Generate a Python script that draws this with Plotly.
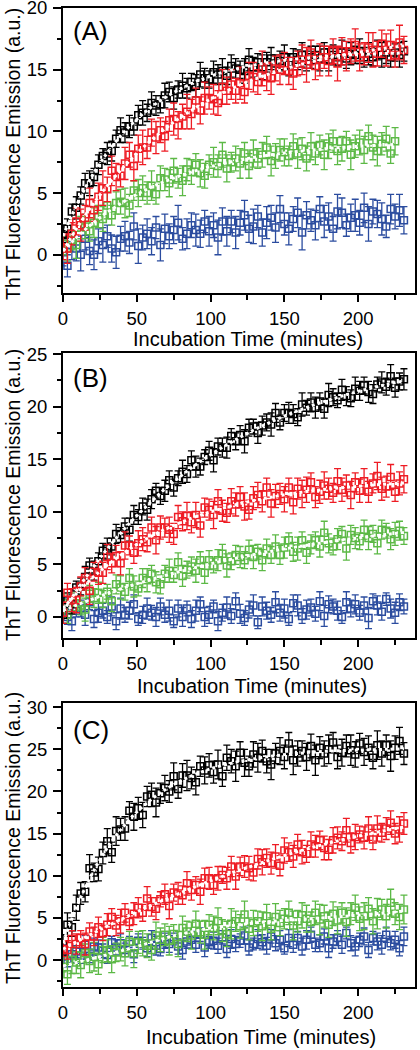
import plotly.graph_objects as go

# ---------------- data ----------------
T = [0,3,6,9,12,15,18,21,24,27,30,33,36,39,42,45,48,51,54,57,60,63,66,69,72,75,78,81,84,87,
     90,93,96,99,102,105,108,111,114,117,120,123,126,129,132,135,138,141,144,147,150,153,156,159,
     162,165,168,171,174,177,180,183,186,189,192,195,198,201,204,207,210,213,216,219,222,225,228,231]
T_A_GREEN = T[:76]

A_black = [1.7,2.1,3.5,3.8,4.8,5.8,5.8,6.3,7.3,8.0,
           8.2,8.4,9.4,10.1,9.9,10.4,10.4,11.3,11.5,11.5,
           12.3,12.1,12.2,12.9,13.2,12.7,13.4,13.7,13.5,14.0,
           13.7,14.6,14.3,14.2,14.8,14.6,14.9,14.5,15.3,15.1,
           15.0,14.9,15.8,15.2,15.6,15.2,15.6,15.9,15.5,15.7,
           16.0,15.4,16.0,15.8,16.2,15.7,16.0,16.2,15.9,16.4,
           15.8,16.2,16.0,16.4,15.9,16.3,16.2,16.5,16.0,16.3,
           16.0,16.6,16.2,16.4,16.0,16.4,16.2,16.5]
A_red = [0.6,0.5,1.7,2.7,2.4,3.0,4.2,3.6,4.7,5.4,
         5.3,6.8,6.3,6.4,7.4,8.1,7.2,8.6,8.7,8.7,
         9.9,9.5,10.1,9.6,10.9,11.0,10.5,11.2,11.6,11.4,
         12.5,11.7,12.7,12.7,12.6,12.3,13.6,13.3,13.8,13.3,
         13.9,13.2,14.5,14.4,14.0,15.1,14.4,14.3,15.1,15.0,
         15.5,14.9,14.7,15.5,15.8,15.4,16.4,15.3,15.8,16.0,
         15.7,16.5,15.5,16.5,16.1,16.5,17.0,16.0,16.3,16.8,
         16.6,16.3,17.1,16.6,17.0,16.2,17.2,16.6]
A_green = [0.9,0.5,1.2,0.8,2.2,2.3,1.9,2.6,3.1,2.9,
           4.0,3.2,4.2,4.3,4.2,4.0,5.2,5.0,5.4,5.0,
           5.6,4.9,6.2,6.1,5.8,6.8,6.2,6.0,6.9,6.7,
           7.3,6.6,6.4,7.3,7.5,7.2,8.1,7.0,7.5,7.8,
           7.4,8.2,7.2,8.2,7.8,8.1,8.7,7.6,8.0,8.5,
           8.3,8.0,8.8,8.2,8.6,7.8,8.8,8.2,8.9,8.1,
           8.8,9.2,8.4,8.6,9.2,8.1,8.8,9.1,8.5,9.6,
           8.7,8.4,9.0,9.4,8.2,9.2]
A_blue = [0.2,-0.9,0.8,0.5,0.0,1.3,0.3,0.0,1.1,0.8,
          1.5,0.5,0.2,1.3,1.5,1.0,2.3,0.7,1.4,1.7,
          1.1,2.2,0.8,2.1,1.5,2.0,2.6,1.3,1.7,2.4,
          2.0,1.7,2.7,1.9,2.4,1.4,2.7,1.9,2.7,1.8,
          2.6,3.2,2.1,2.3,3.1,1.8,2.6,3.0,2.2,3.7,
          2.5,2.1,2.9,3.4,1.8,3.2,2.8,2.4,3.7,2.7,
          3.1,2.1,3.5,3.4,2.4,3.0,3.2,2.6,3.8,2.5,
          3.5,3.3,2.9,2.3,3.7,3.1,3.6,2.8]

B_black = [0.2,1.6,1.2,2.8,2.9,3.8,4.9,4.4,5.3,6.3,
           6.5,6.7,7.9,7.8,8.6,8.3,9.7,9.5,10.5,10.2,
           11.2,12.0,11.5,12.0,13.0,12.3,13.2,13.8,13.6,14.9,
           14.3,14.3,15.2,15.8,14.9,16.2,16.1,16.1,17.2,16.7,
           17.3,16.7,18.0,18.1,17.5,18.2,18.5,18.3,19.4,18.5,
           19.4,19.4,19.3,19.0,20.2,19.9,20.4,19.9,20.5,19.8,
           21.1,20.9,20.6,21.6,21.0,20.8,21.7,21.5,22.0,21.4,
           21.2,22.1,22.3,21.9,22.9,21.8,22.4,22.6]
B_red = [0.4,2.3,1.6,1.6,2.9,3.7,2.5,4.3,4.2,4.2,
         5.7,5.1,5.8,5.1,6.8,6.8,6.1,7.0,7.4,7.1,
         8.5,7.3,8.5,8.5,8.3,7.9,9.5,9.1,9.6,9.0,
         9.7,8.7,10.4,10.2,9.7,11.0,10.1,9.9,11.0,10.7,
         11.4,10.5,10.2,11.3,11.6,11.0,12.3,10.8,11.5,11.7,
         11.2,12.3,10.9,12.2,11.7,12.1,12.8,11.4,11.9,12.5,
         12.2,11.8,12.9,12.1,12.5,11.6,12.8,12.0,12.9,11.9,
         12.7,13.4,12.2,12.4,13.3,11.9,12.7,13.1]
B_green = [1.3,0.2,1.3,1.3,1.1,0.7,2.2,1.8,2.3,1.7,
           2.4,1.5,3.1,2.8,2.4,3.7,2.9,2.7,3.7,3.5,
           4.1,3.3,3.1,4.1,4.4,4.0,5.2,3.9,4.5,4.8,
           4.4,5.4,4.2,5.4,4.9,5.4,6.0,4.9,5.3,5.9,
           5.7,5.4,6.4,5.7,6.2,5.4,6.5,5.9,6.7,5.9,
           6.6,7.3,6.2,6.5,7.3,6.1,6.9,7.3,6.7,8.0,
           7.0,6.7,7.4,7.9,6.5,7.8,7.5,7.2,8.3,7.5,
           7.9,7.0,8.3,8.2,7.4,7.9,8.2,7.7]
B_blue = [1.0,0.0,-0.4,0.6,0.8,0.2,1.4,-0.2,0.4,0.6,
          0.0,1.0,-0.4,0.8,0.2,0.6,1.2,-0.2,0.2,0.8,
          0.4,0.0,1.0,0.2,0.6,-0.4,0.8,0.0,0.8,-0.2,
          0.6,1.2,0.0,0.2,1.0,-0.4,0.4,0.9,0.1,1.5,
          0.3,-0.1,0.7,1.1,-0.5,1.0,0.6,0.2,1.4,0.4,
          0.8,-0.2,1.3,1.1,0.1,0.7,0.9,0.3,1.5,0.1,
          1.2,1.0,0.6,0.0,1.4,0.8,1.2,0.4,1.1,-0.1,
          1.5,1.1,0.5,1.7,0.8,0.4,1.4,1.0]

C_black = [1.8,4.2,3.9,6.2,7.9,8.1,10.9,10.4,10.8,12.7,
           14.1,12.8,15.3,15.5,15.6,17.7,17.0,18.0,17.2,19.4,
           19.6,18.7,19.8,20.4,20.0,21.8,20.3,21.9,21.9,21.6,
           21.1,23.0,22.5,23.1,22.3,23.2,21.8,24.0,23.6,23.0,
           24.6,23.4,23.0,24.4,24.0,24.8,23.6,23.2,24.5,24.8,
           24.1,25.7,23.7,24.5,24.8,24.1,25.4,23.7,25.2,24.5,
           25.0,25.8,24.1,24.6,25.4,24.9,24.4,25.7,24.7,25.2,
           24.0,25.5,24.5,25.5,24.2,25.2,26.0,24.5]
C_red = [1.3,1.2,2.5,1.9,2.6,1.9,3.4,2.8,3.9,3.2,
         4.2,5.1,4.1,4.6,5.6,4.5,5.5,6.2,5.6,7.3,
         6.3,6.1,7.2,7.8,6.4,8.0,7.9,7.7,9.1,8.3,
         8.9,8.1,9.7,9.7,8.9,9.7,10.1,9.7,11.1,9.9,
         11.1,11.1,10.9,10.4,12.0,11.6,12.1,11.5,12.3,11.2,
         13.0,12.8,12.3,13.7,12.8,12.6,13.7,13.5,14.2,13.3,
         13.1,14.2,14.5,14.1,15.4,13.9,14.6,14.9,14.5,15.6,
         14.3,15.6,15.1,15.6,16.3,15.0,15.5,16.2]
C_green = [0.0,-1.7,0.0,-0.3,-0.6,0.8,-0.1,0.4,-0.5,1.2,
           1.1,0.1,0.9,1.3,0.8,2.2,0.8,2.1,2.0,1.7,
           1.2,2.9,2.4,3.0,2.3,3.1,1.9,3.8,3.4,2.9,
           4.3,3.3,3.0,4.2,3.8,4.6,3.5,3.1,4.3,4.6,
           4.0,5.4,3.7,4.4,4.6,4.0,5.2,3.7,5.1,4.4,
           4.9,5.6,4.1,4.6,5.3,4.9,4.5,5.6,4.8,5.2,
           4.2,5.5,4.7,5.6,4.5,5.5,6.2,4.9,5.2,6.1,
           4.6,5.5,6.0,5.2,6.8,5.5,5.1,6.0]
C_blue = [0.9,0.0,0.7,1.0,0.5,1.8,0.5,1.6,1.5,1.1,
          0.6,2.1,1.5,2.0,1.2,1.9,0.7,2.3,2.0,1.4,
          2.6,1.7,1.3,2.3,1.9,2.5,1.6,1.2,2.2,2.4,
          1.8,3.0,1.5,2.1,2.3,1.7,2.7,1.3,2.5,1.9,
          2.3,2.9,1.5,1.9,2.5,2.1,1.7,2.8,2.0,2.4,
          1.4,2.6,1.8,2.6,1.6,2.4,3.0,1.8,2.0,2.8,
          1.4,2.2,2.6,1.8,3.2,2.0,1.6,2.4,2.8,1.2,
          2.6,2.2,1.8,3.0,2.0,2.4,1.4,2.8]

# error bar half-lengths
errA_black = [0.7,0.8,0.6,0.9,0.7,0.8,1.0,0.7,0.8,0.6,0.9,0.8,0.7,1.0,0.8,0.9,0.7,0.8,1.0,0.7,
              0.9,0.8,0.7,1.0,0.8,0.9,0.7,1.0,0.8,0.7,0.9,1.0,0.8,0.7,0.9,0.8,1.0,0.7,0.9,0.8,
              0.7,1.0,0.9,0.8,0.7,1.0,0.8,0.9,0.7,0.8,1.0,0.9,0.7,0.8,1.0,0.8,0.9,0.7,1.0,0.8,
              0.9,0.8,0.7,1.0,0.8,0.9,0.7,1.0,0.8,0.9,0.7,0.8,1.0,0.9,0.8,0.7,1.0,0.8]
errA_red = [1.0,1.2,0.9,1.1,1.3,1.0,1.2,0.9,1.1,1.4,1.0,1.2,1.1,0.9,1.3,1.0,1.2,1.1,1.4,0.9,
            1.1,1.3,1.0,1.2,0.9,1.3,1.1,1.0,1.4,1.2,1.0,1.1,1.3,0.9,1.2,1.0,1.4,1.1,1.2,1.0,
            1.3,0.9,1.1,1.2,1.0,1.4,1.1,1.3,1.0,1.2,0.9,1.1,1.3,1.0,1.2,1.4,1.0,1.1,1.3,0.9,
            1.2,1.0,1.4,1.1,1.2,1.0,1.3,1.1,0.9,1.2,1.4,1.0,1.1,1.3,1.2,1.0,1.4,1.1]
errA_green = [0.9,1.0,0.8,1.1,0.9,1.0,0.8,1.2,0.9,1.0,1.1,0.8,0.9,1.0,1.2,0.9,0.8,1.1,1.0,0.9,
              1.2,0.8,1.0,0.9,1.1,1.0,0.8,1.2,0.9,1.0,0.9,1.1,1.0,0.8,1.2,0.9,1.0,1.1,0.8,1.0,
              1.2,0.9,1.0,1.1,0.8,1.0,0.9,1.2,1.0,0.9,1.1,0.8,1.0,1.2,0.9,1.0,1.1,0.9,0.8,1.2,
              1.0,0.9,1.1,1.0,0.8,1.2,0.9,1.0,1.1,0.9,1.0,1.2,0.9,1.0,0.8,1.1]
errA_blue = [1.1,0.9,1.2,1.0,1.3,0.9,1.1,1.2,1.0,1.4,0.9,1.1,1.3,1.0,1.2,0.9,1.1,1.4,1.0,1.2,
             1.1,0.9,1.3,1.2,1.0,1.1,1.4,0.9,1.2,1.0,1.3,1.1,0.9,1.2,1.0,1.4,1.1,1.2,0.9,1.3,
             1.0,1.2,1.1,1.4,0.9,1.1,1.3,1.0,1.2,1.1,0.9,1.3,1.0,1.2,1.4,1.1,0.9,1.2,1.0,1.3,
             1.1,1.0,1.4,1.2,0.9,1.1,1.3,1.0,1.2,1.4,1.0,1.1,1.3,0.9,1.2,1.0,1.3,1.1]
errB_black = [0.8,0.7,0.9,0.6,0.8,1.0,0.7,0.9,0.8,0.7,1.0,0.8,0.9,0.7,0.8,1.1,0.9,0.7,0.8,1.0,
              0.9,0.7,0.8,1.0,0.9,0.8,0.7,1.1,0.8,0.9,1.0,0.8,0.7,0.9,1.1,0.8,0.9,1.0,0.7,0.8,
              0.9,1.1,0.8,0.7,1.0,0.9,0.8,1.1,0.9,0.7,0.8,1.0,0.9,0.8,1.1,0.7,0.9,1.0,0.8,0.9,
              1.1,0.8,0.7,1.0,0.9,0.8,1.1,0.9,0.8,1.0,0.9,0.7,1.0,0.8,1.1,0.9,0.8,1.0]
errB_red = [1.0,0.9,1.1,1.2,0.9,1.0,1.3,0.9,1.1,1.0,1.2,0.9,1.0,1.1,1.3,0.9,1.0,1.2,1.1,0.9,
            1.0,1.3,1.1,0.9,1.2,1.0,1.1,0.9,1.3,1.0,1.2,1.1,0.9,1.0,1.3,1.1,1.0,0.9,1.2,1.1,
            1.0,1.3,0.9,1.1,1.2,1.0,0.9,1.3,1.1,1.0,1.2,0.9,1.1,1.0,1.3,1.2,0.9,1.0,1.1,1.3,
            1.0,0.9,1.2,1.1,1.0,1.3,0.9,1.1,1.2,1.0,0.9,1.3,1.1,1.0,1.2,0.9,1.1,1.3]
errB_green = [0.9,0.8,1.0,0.7,0.9,1.1,0.8,0.9,1.0,0.8,0.7,1.0,0.9,1.1,0.8,0.9,1.0,0.7,0.9,1.1,
              0.8,1.0,0.9,0.8,1.1,0.7,0.9,1.0,0.8,0.9,1.1,0.8,1.0,0.9,0.7,1.0,0.9,1.1,0.8,0.9,
              1.0,0.8,0.9,1.1,0.7,1.0,0.9,0.8,1.1,0.9,1.0,0.7,0.9,1.1,0.8,1.0,0.9,0.8,1.0,1.1,
              0.9,0.8,1.0,0.7,1.1,0.9,1.0,0.8,0.9,1.1,0.8,1.0,0.9,0.7,1.0,1.1,0.9,0.8]
errB_blue = [0.8,0.7,0.9,0.6,0.8,1.0,0.7,0.8,0.9,0.7,0.6,0.9,0.8,1.0,0.7,0.8,0.9,0.6,0.8,1.0,
             0.7,0.9,0.8,0.7,1.0,0.6,0.8,0.9,0.7,0.8,1.0,0.7,0.9,0.8,0.6,0.9,0.8,1.0,0.7,0.8,
             0.9,0.7,0.8,1.0,0.6,0.9,0.8,0.7,1.0,0.8,0.9,0.6,0.8,1.0,0.7,0.9,0.8,0.7,0.9,1.0,
             0.8,0.7,0.9,0.6,1.0,0.8,0.9,0.7,0.8,1.0,0.7,0.9,0.8,0.6,0.9,1.0,0.8,0.7]
errC_black = [1.2,1.4,1.1,1.5,1.3,1.2,1.6,1.1,1.4,1.3,1.5,1.2,1.7,1.3,1.4,1.1,1.6,1.3,1.5,1.2,
              1.4,1.7,1.2,1.5,1.3,1.6,1.1,1.4,1.8,1.3,1.5,1.2,1.6,1.4,1.3,1.7,1.2,1.5,1.4,1.8,
              1.3,1.6,1.2,1.5,1.7,1.3,1.4,1.8,1.2,1.6,1.4,1.3,1.7,1.5,1.2,1.6,1.4,1.8,1.3,1.5,
              1.7,1.2,1.4,1.6,1.3,1.8,1.5,1.2,1.6,1.4,1.3,1.7,1.5,1.2,1.8,1.4,1.6,1.3]
errC_red = [0.9,1.1,1.0,1.2,0.9,1.3,1.0,1.1,1.2,0.9,1.3,1.0,1.2,1.4,1.1,0.9,1.3,1.2,1.0,1.4,
            1.1,1.3,0.9,1.2,1.5,1.0,1.3,1.1,1.4,1.2,1.0,1.5,1.2,1.3,1.1,1.4,1.0,1.3,1.2,1.5,
            1.1,1.3,1.4,1.0,1.2,1.5,1.1,1.3,1.4,1.2,1.5,1.1,1.3,1.2,1.4,1.0,1.5,1.3,1.1,1.4,
            1.2,1.5,1.3,1.1,1.4,1.2,1.5,1.0,1.3,1.4,1.2,1.5,1.1,1.3,1.4,1.2,1.5,1.3]
errC_green = [1.4,1.2,1.6,1.3,1.5,1.1,1.4,1.7,1.2,1.5,1.3,1.6,1.1,1.4,1.5,1.2,1.7,1.3,1.5,1.4,
              1.2,1.6,1.4,1.3,1.7,1.1,1.5,1.4,1.2,1.6,1.5,1.3,1.7,1.2,1.4,1.6,1.3,1.5,1.8,1.2,
              1.4,1.6,1.3,1.5,1.2,1.7,1.4,1.3,1.6,1.5,1.2,1.4,1.7,1.3,1.5,1.6,1.2,1.4,1.8,1.3,
              1.5,1.4,1.6,1.2,1.7,1.3,1.5,1.4,1.6,1.3,1.5,1.8,1.2,1.4,1.6,1.3,1.5,1.7]
errC_blue = [0.9,0.8,1.0,0.7,0.9,1.1,0.8,1.0,0.9,0.8,1.0,0.7,0.9,1.1,0.8,0.9,1.0,0.8,0.7,1.0,
             0.9,1.1,0.8,0.9,1.0,0.7,0.9,1.1,0.8,1.0,0.9,0.8,1.1,0.7,1.0,0.9,0.8,1.0,1.1,0.9,
             0.8,1.0,0.9,0.7,1.1,0.9,1.0,0.8,0.9,1.1,0.7,1.0,0.9,0.8,1.0,1.1,0.9,0.8,1.0,0.9,
             1.1,0.8,0.9,1.0,0.7,0.9,1.1,0.8,1.0,0.9,0.8,1.0,1.1,0.9,0.8,1.0,0.9,1.1]

# fitted curves (white dotted lines)
FIT_T = [0,5,10,15,20,25,30,40,50,60,70,80,90,100,115,130,145,160,175,190,205,220,231]
FIT_T_A_GREEN = [0,5,10,15,20,25,30,40,50,60,70,80,90,100,115,130,145,160,175,190,205,220,225]
fitA_black = [1.5,2.93,4.22,5.39,6.45,7.4,8.27,9.77,10.98,11.99,12.8,13.47,14.03,14.48,15.0,15.39,15.68,15.89,16.05,16.17,16.25,16.32,16.35]
fitA_red = [0.3,1.31,2.28,3.18,4.04,4.84,5.59,6.98,8.22,9.31,10.29,11.16,11.92,12.62,13.51,14.24,14.86,15.39,15.82,16.2,16.5,16.77,16.93]
fitA_green = [0.3,0.92,1.5,2.04,2.54,3.0,3.44,4.22,4.89,5.48,5.99,6.43,6.82,7.14,7.56,7.9,8.17,8.38,8.56,8.71,8.82,8.91,8.94]
fitB_black = [0.5,1.6,2.68,3.68,4.65,5.58,6.48,8.13,9.63,11.0,12.28,13.43,14.48,15.43,16.7,17.83,18.8,19.65,20.4,21.05,21.63,22.13,22.45]
fitB_red = [0.8,1.6,2.36,3.06,3.73,4.34,4.93,5.96,6.89,7.69,8.39,9.0,9.54,10.0,10.6,11.09,11.49,11.83,12.09,12.31,12.49,12.64,12.73]
fitB_green = [0.6,0.89,1.17,1.44,1.71,1.97,2.22,2.7,3.15,3.57,3.97,4.35,4.71,5.05,5.52,5.95,6.34,6.7,7.03,7.33,7.61,7.86,8.03]
fitC_black = [2.0,4.44,6.62,8.57,10.33,11.88,13.3,15.66,17.57,19.08,20.3,21.28,22.07,22.69,23.39,23.9,24.27,24.53,24.74,24.85,24.94,25.01,25.06]
fitC_red = [1.3,1.77,2.24,2.69,3.14,3.59,4.02,4.88,5.7,6.5,7.26,8.0,8.72,9.4,10.37,11.28,12.13,12.92,13.64,14.3,14.89,15.42,15.77]
fitC_green = [-0.7,-0.48,-0.26,-0.04,0.18,0.4,0.64,1.12,1.6,2.12,2.64,3.08,3.44,3.8,4.1,4.4,4.63,4.82,5.0,5.18,5.38,5.62,5.8]

X_TITLE = "Incubation Time (minutes)"
Y_TITLE = "ThT Fluorescence Emission (a.u.)"
PANEL_LABELS = ["(A)", "(B)", "(C)"]

# ---------------- styling ----------------
BLACK, RED, GREEN, BLUE = "#000000", "#ee1c24", "#5cb946", "#2b4c9f"
FONT = "Liberation Sans, Arial, sans-serif"
W, H = 420, 1050
ML, MR = 63, 5
PW = W - ML - MR

def px_x(p):
    return (p - ML) / PW

def px_y(p):
    return 1 - p / H

panels = [
    dict(ax="", top=8, bottom=293, yr=[-3.1, 20],
         series=[(T, A_blue, errA_blue, BLUE), (T_A_GREEN, A_green, errA_green, GREEN),
                 (T, A_black, errA_black, BLACK), (T, A_red, errA_red, RED)],
         fits=[(FIT_T_A_GREEN, fitA_green), (FIT_T, fitA_black), (FIT_T, fitA_red)],
         xt_y=339, xt_x=248, yt_y=154, lab_y=31),
    dict(ax="2", top=353, bottom=638, yr=[-2, 25.1],
         series=[(T, B_blue, errB_blue, BLUE), (T, B_green, errB_green, GREEN),
                 (T, B_black, errB_black, BLACK), (T, B_red, errB_red, RED)],
         fits=[(FIT_T, fitB_green), (FIT_T, fitB_black), (FIT_T, fitB_red)],
         xt_y=686, xt_x=252, yt_y=495, lab_y=378),
    dict(ax="3", top=703, bottom=987, yr=[-3.2, 30.5],
         series=[(T, C_blue, errC_blue, BLUE), (T, C_green, errC_green, GREEN),
                 (T, C_black, errC_black, BLACK), (T, C_red, errC_red, RED)],
         fits=[(FIT_T, fitC_green), (FIT_T, fitC_black), (FIT_T, fitC_red)],
         xt_y=1037, xt_x=261, yt_y=838, lab_y=730),
]

fig = go.Figure()
annotations = []
layout_axes = {}

for k, p in enumerate(panels):
    xa, ya = "x" + p["ax"], "y" + p["ax"]
    for tx, vals, errs, col in p["series"]:
        fig.add_trace(go.Scatter(
            x=tx, y=vals, mode="markers", xaxis=xa, yaxis=ya, showlegend=False, hoverinfo="skip",
            marker=dict(symbol="square-open", size=7, color=col, line=dict(width=1.5, color=col)),
            error_y=dict(type="data", array=errs, visible=True, color=col, thickness=1.3, width=3.5),
        ))
    for fx, fv in p["fits"]:
        fig.add_trace(go.Scatter(
            x=fx, y=fv, mode="lines", xaxis=xa, yaxis=ya, showlegend=False, hoverinfo="skip",
            line=dict(color="white", width=3, dash="3px,3px", shape="spline"),
        ))

    layout_axes["xaxis" + p["ax"]] = dict(
        domain=[0, 1], range=[0, 238.5], anchor=ya, tick0=0, dtick=50,
        ticks="outside", ticklen=7, tickwidth=1.5, tickcolor="black",
        showline=True, linewidth=2, linecolor="black", mirror=True,
        showgrid=False, zeroline=False, ticklabelstandoff=1, automargin=False,
        ticklabeloverflow="allow",
        tickfont=dict(family=FONT, size=18.5, color="black"),
        minor=dict(dtick=25, tick0=0, ticks="outside", ticklen=5, tickwidth=1.5,
                   tickcolor="black", showgrid=False),
    )
    layout_axes["yaxis" + p["ax"]] = dict(
        domain=[px_y(p["bottom"]), px_y(p["top"])], range=p["yr"], anchor=xa,
        tick0=0, dtick=5, ticks="outside", ticklen=8, tickwidth=1.5, tickcolor="black",
        showline=True, linewidth=2, linecolor="black", mirror=True,
        showgrid=False, zeroline=False, ticklabelstandoff=2, automargin=False,
        ticklabeloverflow="allow",
        tickfont=dict(family=FONT, size=18.5, color="black"),
        minor=dict(dtick=2.5, tick0=0, ticks="outside", ticklen=4, tickwidth=1.5,
                   tickcolor="black", showgrid=False),
    )
    annotations.append(dict(text=X_TITLE, xref="paper", yref="paper",
                            x=px_x(p["xt_x"]), y=px_y(p["xt_y"]), xanchor="center", yanchor="middle",
                            showarrow=False, font=dict(family=FONT, size=20, color="black")))
    annotations.append(dict(text=Y_TITLE, xref="paper", yref="paper", textangle=-90,
                            x=px_x(13), y=px_y(p["yt_y"]), xanchor="center", yanchor="middle",
                            showarrow=False, font=dict(family=FONT, size=19.5, color="black")))
    annotations.append(dict(text=PANEL_LABELS[k], xref="paper", yref="paper",
                            x=px_x(71), y=px_y(p["lab_y"]), xanchor="left", yanchor="middle",
                            showarrow=False, font=dict(family=FONT, size=26, color="black")))

fig.update_layout(
    width=W, height=H, margin=dict(l=ML, r=MR, t=0, b=0, autoexpand=False),
    paper_bgcolor="white", plot_bgcolor="white",
    annotations=annotations, **layout_axes,
)

fig.write_html("out.html", config={"displayModeBar": False},
               post_script="document.body.style.margin='0px';document.body.style.overflow='hidden';")
